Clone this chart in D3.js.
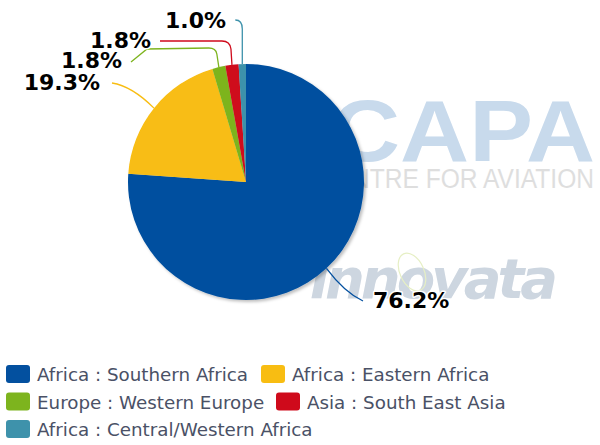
<!DOCTYPE html>
<html><head><meta charset="utf-8">
<script src="https://cdn.jsdelivr.net/npm/d3@7"></script>
<style>html,body{margin:0;padding:0;background:#fff;}</style>
</head><body>
<svg id="chart" width="600" height="445"></svg>
<script>
const categories = ["Africa : Southern Africa","Africa : Eastern Africa","Europe : Western Europe","Asia : South East Asia","Africa : Central/Western Africa"];
const values = [76.2, 19.3, 1.8, 1.8, 1.0];
const valueLabels = ["76.2%","19.3%","1.8%","1.8%","1.0%"];
const colors = ["#03509f","#f8bd12","#7db41e","#cf0a1b","#3e92ab"];

const svg = d3.select("#chart");
const cx = 246, cy = 182, R = 118;

// watermark
const wm = svg.append("g");
wm.append("text").attr("x",331).attr("y",161)
  .attr("font-family","Liberation Sans, Arial, sans-serif").attr("font-weight","bold")
  .attr("font-size",88).attr("fill","#c8daec")
  .attr("textLength",264).attr("lengthAdjust","spacingAndGlyphs").text("CAPA");
wm.append("text").attr("x",318).attr("y",188)
  .attr("font-family","Liberation Sans, Arial, sans-serif")
  .attr("font-size",27).attr("fill","#dedede")
  .attr("textLength",276).attr("lengthAdjust","spacingAndGlyphs").text("CENTRE FOR AVIATION");
wm.append("text").attr("x",554).attr("y",298).attr("text-anchor","end")
  .attr("font-family","DejaVu Sans, sans-serif").attr("font-weight","bold").attr("font-style","italic")
  .attr("font-size",56).attr("fill","#cdd6e0").attr("letter-spacing",-4).text("innovata");
wm.append("ellipse").attr("cx",412).attr("cy",272).attr("rx",12).attr("ry",20)
  .attr("transform","rotate(-25,412,272)").attr("fill","none").attr("stroke","#e6efc4").attr("stroke-width",1.2);

// shadow filter
const defs = svg.append("defs");
const f = defs.append("filter").attr("id","sh").attr("x","-10%").attr("y","-10%").attr("width","130%").attr("height","130%");
f.append("feDropShadow").attr("dx",2).attr("dy",2).attr("stdDeviation",1.8).attr("flood-color","#000").attr("flood-opacity",0.25);

const pie = d3.pie().sort(null).value(d=>d)(values);
const arc = d3.arc().innerRadius(0).outerRadius(R);
const g = svg.append("g").attr("transform",`translate(${cx},${cy})`);
g.append("g").attr("filter","url(#sh)").selectAll("path").data(pie).join("path")
  .attr("d",arc).attr("fill",(d,i)=>colors[i]);

// label layout (label anchor & connector bend points)
const labelPos = [
  {x:373, y:308, anchor:"start", pts:(s)=>`M${s[0]},${s[1]} Q${s[0]+18},${s[1]+24} ${363},${301}`},
  {x:100, y:90, anchor:"end", pts:(s)=>`M${s[0]},${s[1]} Q${s[0]-22},${s[1]-22} ${112},${83}`},
  {x:122, y:68, anchor:"end", pts:(s)=>`M${s[0]},${s[1]} L${s[0]-2},${54} Q${s[0]-3},${48} ${s[0]-10},${48} L${147},${49} L${131},${62}`},
  {x:151, y:48, anchor:"end", pts:(s)=>`M${s[0]},${s[1]} L${s[0]-1},${49} Q${s[0]-2},${41} ${s[0]-10},${41} L${160},${41}`},
  {x:226, y:28, anchor:"end", pts:(s)=>`M${s[0]},${s[1]} L${s[0]},${29} Q${s[0]},${20} ${s[0]-7},${20}`}
];
const lg = svg.append("g");
pie.forEach((d,i)=>{
  const a = (d.startAngle+d.endAngle)/2;
  const s = [cx + R*Math.sin(a), cy - R*Math.cos(a)];
  lg.append("path").attr("d",labelPos[i].pts(s)).attr("fill","none")
    .attr("stroke",colors[i]).attr("stroke-width",1.3);
});
pie.forEach((d,i)=>{
  const L = labelPos[i];
  lg.append("text").attr("x",L.x).attr("y",L.y).attr("text-anchor",L.anchor)
    .attr("font-family","DejaVu Sans, Verdana, sans-serif").attr("font-weight","bold")
    .attr("font-size",22).attr("fill","#000")
    .attr("stroke","#fff").attr("stroke-width",3).attr("paint-order","stroke")
    .attr("stroke-linejoin","round").text(valueLabels[i]);
});

// legend
const legendLayout = [
  {x:6,y:365},{x:261,y:365},{x:6,y:392.5},{x:276,y:392.5},{x:6,y:420}
];
const leg = svg.append("g");
categories.forEach((c,i)=>{
  const p = legendLayout[i];
  leg.append("rect").attr("x",p.x).attr("y",p.y).attr("width",24).attr("height",18)
    .attr("rx",3).attr("fill",colors[i]);
  leg.append("text").attr("x",p.x+31).attr("y",p.y+16)
    .attr("font-family","DejaVu Sans, Verdana, sans-serif").attr("font-size",18.3)
    .attr("fill","#4a5166").text(c);
});
</script>
</body></html>
